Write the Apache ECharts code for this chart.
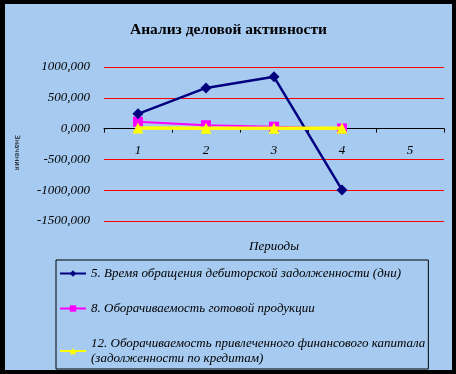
<!DOCTYPE html>
<html><head><meta charset="utf-8">
<script src="https://cdn.jsdelivr.net/npm/echarts@6/dist/echarts.min.js"></script>
<style>
html,body{margin:0;padding:0;background:#000;width:456px;height:374px;overflow:hidden}
#c{position:absolute;left:5px;top:4px;width:447px;height:366px}
</style></head><body><div id="c"></div>
<script>
const categories = ['1','2','3','4','5'];
const seriesNames = [
  '5. Время обращения дебиторской задолженности (дни)',
  '8. Оборачиваемость готовой продукции',
  '12. Оборачиваемость привлеченного финансового капитала\n(задолженности по кредитам)'
];
const s1 = [240, 660, 840, -995, null];
const s2 = [110, 55, 30, 2, null];
const s3 = [8, 6, 5, 4, null];
const yMin = -1500, yMax = 1000, yStep = 500;

const chart = echarts.init(document.getElementById('c'));
const serif = '"Liberation Serif","DejaVu Serif",serif';
chart.setOption({
  backgroundColor: '#A6CAF0',
  animation: false,
  title: {
    text: 'Анализ деловой активности',
    left: 'center', top: 13,
    textStyle: {fontFamily: serif, fontSize: 15.5, fontWeight: 'bold', color: '#000'}
  },
  grid: {left: 99, right: 8, top: 63, bottom: 149},
  xAxis: {
    type: 'category', data: categories, boundaryGap: true,
    name: 'Периоды', nameLocation: 'middle', nameGap: 19,
    nameTextStyle: {fontFamily: serif, fontStyle: 'italic', fontSize: 13, color: '#000'},
    axisLine: {onZero: true, lineStyle: {color: '#000', width: 1}},
    axisTick: {show: true, inside: false, length: 4, lineStyle: {color: '#000'}},
    axisLabel: {show: true, margin: -77, fontFamily: serif, fontStyle: 'italic', fontSize: 13, color: '#000'},
    splitLine: {show: false}
  },
  yAxis: {
    type: 'value', min: yMin, max: yMax, interval: yStep,
    axisLine: {show: false}, axisTick: {show: false},
    axisLabel: {fontFamily: serif, fontStyle: 'italic', fontSize: 13, color: '#000', margin: 14,
      formatter: v => v.toFixed(3).replace('.', ',')},
    splitLine: {lineStyle: {color: '#FF0000', width: 1}}
  },
  legend: {
    orient: 'vertical', left: 51, top: 256, height: 110,
    itemWidth: 26, itemHeight: 8, itemGap: 20,
    backgroundColor: 'transparent',
    borderColor: '#000', borderWidth: 1,
    padding: [6, 3, 3, 3],
    textStyle: {fontFamily: serif, fontStyle: 'italic', fontSize: 13, color: '#000', lineHeight: 15},
    data: seriesNames
  },
  graphic: [{
    type: 'text', left: 8, top: 131, rotation: -Math.PI / 2,
    style: {text: 'Значения', font: '7px "DejaVu Sans", sans-serif', fill: '#000'}
  }],
  series: [
    {name: seriesNames[0], type: 'line', data: s1, symbol: 'diamond', symbolSize: 11,
     itemStyle: {color: '#000080'}, lineStyle: {color: '#000080', width: 2.5}, z: 4},
    {name: seriesNames[1], type: 'line', data: s2, symbol: 'rect', symbolSize: 10,
     itemStyle: {color: '#FF00FF'}, lineStyle: {color: '#FF00FF', width: 2}, z: 3},
    {name: seriesNames[2], type: 'line', data: s3, symbol: 'triangle', symbolSize: 11,
     itemStyle: {color: '#FFFF00'}, lineStyle: {color: '#FFFF00', width: 3.5}, z: 5}
  ]
});
</script></body></html>
